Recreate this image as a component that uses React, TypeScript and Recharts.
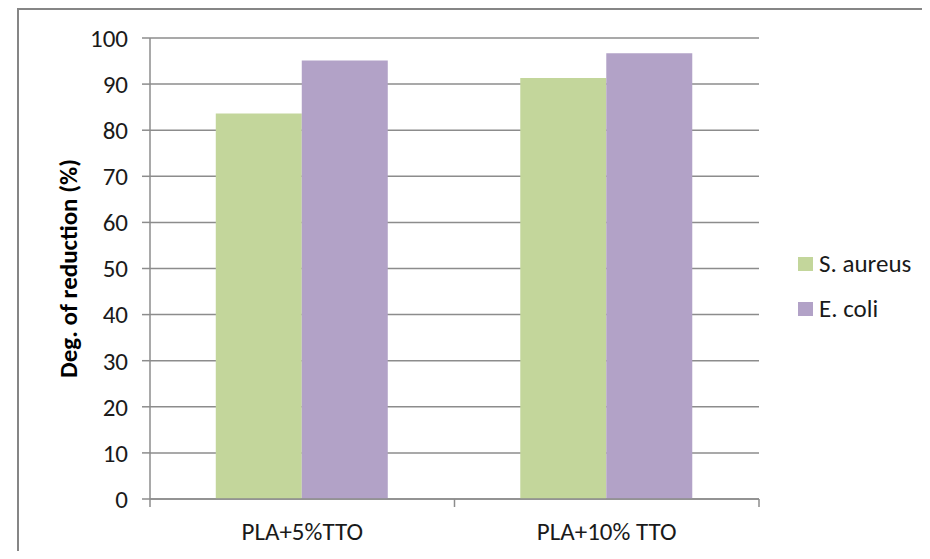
import { BarChart, Bar, XAxis, YAxis, CartesianGrid, Legend } from 'recharts'

const categories = ['PLA+5%TTO', 'PLA+10% TTO']
const seriesNames = ['S. aureus', 'E. coli']
const sAureus = [83.6, 91.3]
const eColi = [95.1, 96.7]
const yTicks = [0, 10, 20, 30, 40, 50, 60, 70, 80, 90, 100]

const GREEN = '#C3D69B'
const PURPLE = '#B2A2C7'
const AXIS = '#8c8c8c'
const TEXT = '#1a1a1a'
const FONT = 'Carlito, Lato, sans-serif'
const FS = 25

const data = categories.map((name, i) => ({
  name,
  sAureus: sAureus[i],
  eColi: eColi[i],
}))

// tick marks sit between categories, like in Excel
function CategoryTick(props: any) {
  const { x, y, payload, index, visibleTicksCount } = props
  const half = payload.offset || 0
  const left = payload.coordinate - half
  const right = payload.coordinate + half
  return (
    <g>
      <line x1={left} x2={left} y1={y} y2={y + 8} stroke={AXIS} strokeWidth={1.5} />
      {index === visibleTicksCount - 1 && (
        <line x1={right} x2={right} y1={y} y2={y + 8} stroke={AXIS} strokeWidth={1.5} />
      )}
      <text x={x} y={y + 41} textAnchor="middle" fill={TEXT} fontSize={FS} fontFamily={FONT}>
        {payload.value}
      </text>
    </g>
  )
}

function LegendBox({ payload }: any) {
  const items = [...(payload || [])].sort(
    (a: any, b: any) => seriesNames.indexOf(a.value) - seriesNames.indexOf(b.value)
  )
  return (
    <div style={{ fontFamily: FONT, fontSize: FS, color: TEXT, lineHeight: 1 }}>
      {items.map((entry: any) => (
        <div key={entry.value} style={{ display: 'flex', alignItems: 'center', height: 45 }}>
          <span style={{ display: 'inline-block', width: 15, height: 14, background: entry.color, marginRight: 6 }} />
          <span>{entry.value}</span>
        </div>
      ))}
    </div>
  )
}

export default function App() {
  return (
    <div style={{ position: 'relative', width: 930, height: 559, margin: -8, overflow: 'hidden', background: '#fff' }}>
      <div
        style={{
          position: 'absolute',
          left: 17,
          top: 8,
          width: 930,
          height: 559,
          borderTop: '2px solid #868686',
          borderLeft: '2px solid #868686',
        }}
      />
      <div style={{ position: 'absolute', left: 0, top: 0 }}>
        <BarChart
          width={930}
          height={559}
          data={data}
          margin={{ top: 38, right: 171, bottom: 0, left: 0 }}
          barCategoryGap="21.6%"
          barGap={0}
        >
          <CartesianGrid vertical={false} stroke={AXIS} strokeWidth={1.5} />
          <XAxis
            dataKey="name"
            height={60}
            stroke={AXIS}
            strokeWidth={1.5}
            tickLine={false}
            tickSize={0}
            tickMargin={0}
            tick={<CategoryTick />}
            interval={0}
          />
          <YAxis
            width={150}
            domain={[0, 100]}
            ticks={yTicks}
            interval={0}
            stroke={AXIS}
            strokeWidth={1.5}
            tickSize={8}
            tickMargin={14}
            tick={{ fill: TEXT, fontSize: FS, fontFamily: FONT }}
            label={{
              value: 'Deg. of reduction (%)',
              angle: -90,
              position: 'center',
              dx: -7,
              fill: '#000',
              fontSize: FS,
              fontWeight: 'bold',
              fontFamily: FONT,
            }}
          />
          <Legend
            layout="vertical"
            verticalAlign="middle"
            align="center"
            content={<LegendBox />}
            wrapperStyle={{ position: 'absolute', left: 798, top: 241, width: 132, height: 90 }}
          />
          <Bar dataKey="sAureus" name={seriesNames[0]} fill={GREEN} isAnimationActive={false} />
          <Bar dataKey="eColi" name={seriesNames[1]} fill={PURPLE} isAnimationActive={false} />
        </BarChart>
      </div>
    </div>
  )
}
